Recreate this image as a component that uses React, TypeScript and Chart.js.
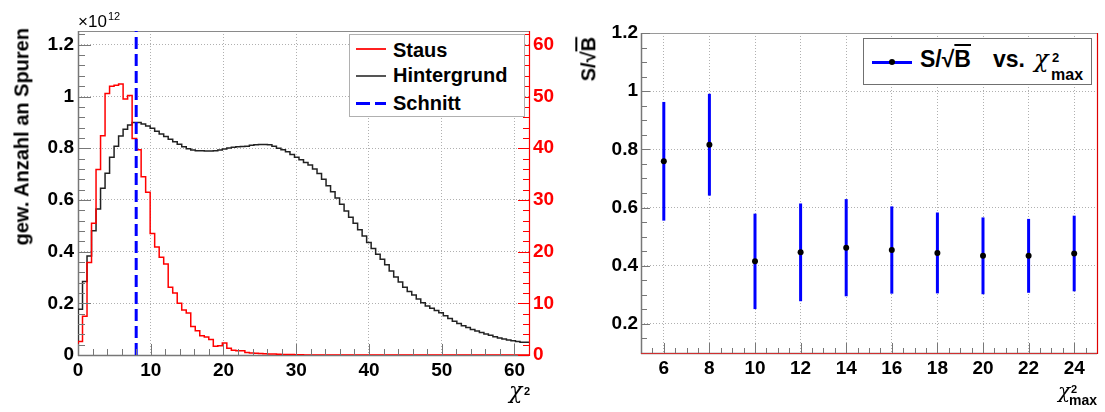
import React, { useEffect, useRef } from "react";
import { Chart, registerables } from "chart.js";

Chart.register(...registerables);

// ---------------- Left panel: chi^2 distributions ----------------
const X_LOW = 0;
const X_HIGH = 62; // 100 bins between X_LOW and X_HIGH
// Staus (right, red axis)
const stausCounts: number[] = [
  0, 2.6, 7.5, 17.9, 25.5, 35.9, 42.4, 50.6, 52.0, 52.2,
  52.4, 49.5, 50.2, 41.9, 39.7, 34.5, 31.5, 23.5, 20.9, 18.9,
  17.6, 13.1, 12.0, 10.0, 8.7, 8.1, 5.5, 4.7, 3.7, 3.5,
  3.0, 1.7, 1.8, 2.3, 1.3, 0.9, 0.8, 0.8, 0.5, 0.4,
  0.35, 0.3, 0.25, 0.2, 0.2, 0.15, 0.1, 0.1, 0.1, 0.05,
  0.05, 0, 0, 0, 0, 0, 0, 0, 0, 0,
  0, 0, 0, 0, 0, 0, 0, 0, 0, 0,
  0, 0, 0, 0, 0, 0, 0, 0, 0, 0,
  0, 0, 0, 0, 0, 0, 0, 0, 0, 0,
  0, 0, 0, 0, 0, 0, 0, 0, 0, 0,
];
// Hintergrund (left axis, units of 1e12)
const hintergrundCounts: number[] = [
  0.071, 0.177, 0.284, 0.383, 0.481, 0.565, 0.645, 0.703, 0.765, 0.808,
  0.847, 0.873, 0.890, 0.899, 0.899, 0.894, 0.886, 0.877, 0.866, 0.855,
  0.845, 0.835, 0.825, 0.815, 0.806, 0.798, 0.793, 0.790, 0.790, 0.789,
  0.789, 0.790, 0.793, 0.797, 0.801, 0.804, 0.806, 0.807, 0.808, 0.811,
  0.813, 0.814, 0.814, 0.813, 0.808, 0.800, 0.794, 0.786, 0.776, 0.765,
  0.755, 0.745, 0.735, 0.720, 0.702, 0.680, 0.655, 0.632, 0.607, 0.583,
  0.557, 0.533, 0.510, 0.485, 0.460, 0.435, 0.412, 0.390, 0.370, 0.349,
  0.325, 0.302, 0.282, 0.262, 0.246, 0.232, 0.217, 0.202, 0.190, 0.181,
  0.172, 0.163, 0.152, 0.141, 0.131, 0.122, 0.113, 0.106, 0.099, 0.093,
  0.087, 0.081, 0.076, 0.071, 0.066, 0.062, 0.058, 0.055, 0.052, 0.049,
];
const schnittX = 8;
const Y_MAX_LEFT = 1.2534;
const Y2_MAX_LEFT = 62.67;
const xTicksLeft = [0, 10, 20, 30, 40, 50, 60];
const yTicksLeft = [0, 0.2, 0.4, 0.6, 0.8, 1.0, 1.2];
const y2TicksLeft = [0, 10, 20, 30, 40, 50, 60];

// ---------------- Right panel: S/sqrt(B) vs chi2_max ----------------
const chi2Max = [6, 8, 10, 12, 14, 16, 18, 20, 22, 24];
const sOverSqrtB = [0.759, 0.816, 0.415, 0.446, 0.462, 0.454, 0.444, 0.434, 0.434, 0.442];
const sOverSqrtBErr = [0.204, 0.175, 0.164, 0.168, 0.167, 0.15, 0.139, 0.132, 0.127, 0.13];
const xTicksRight = [6, 8, 10, 12, 14, 16, 18, 20, 22, 24];
const yTicksRight = [0.2, 0.4, 0.6, 0.8, 1.0, 1.2];

const SANS = "'Liberation Sans', Arial, Helvetica, sans-serif";
const GREEK = "'DejaVu Serif', 'Liberation Serif', serif";
const TICK_FONT = { family: SANS, size: 19, weight: "bold" as const };

function steps(from: number, to: number, step: number): number[] {
  const out: number[] = [];
  const n = Math.round((to - from) / step);
  for (let i = 0; i <= n; i++) out.push(+(from + i * step).toFixed(6));
  return out;
}
function minorsOf(all: number[], majors: number[]) {
  return all.filter((v) => !majors.some((m) => Math.abs(m - v) < 1e-9));
}
function histPoints(counts: number[]) {
  const w = (X_HIGH - X_LOW) / counts.length;
  const pts = [{ x: X_LOW, y: 0 }];
  counts.forEach((c, i) => pts.push({ x: X_LOW + i * w, y: c }));
  pts.push({ x: X_HIGH, y: counts[counts.length - 1] });
  return pts;
}
const fmt = (v: number | string) => String(Math.round(Number(v) * 100) / 100);
const fixedTicks = (arr: number[]) => (s: any) => {
  s.ticks = arr.map((v) => ({ value: v }));
};

const GRID = { color: "#b0b0b0", lineWidth: 1, drawTicks: false };
const BORDER = { display: false, dash: [1, 2] };

// frame + inside tick marks (ROOT style)
const rootFramePlugin = {
  id: "rootFrame",
  beforeDatasetsDraw(chart: any, _a: any, opts: any) {
    const { ctx, chartArea: a } = chart;
    ctx.save();
    for (const e of opts.edges || []) {
      ctx.strokeStyle = e.color;
      ctx.lineWidth = e.width;
      ctx.beginPath();
      if (e.side === "top") { ctx.moveTo(a.left, a.top + 0.5); ctx.lineTo(a.right, a.top + 0.5); }
      if (e.side === "bottom") { ctx.moveTo(a.left, a.bottom + 0.5); ctx.lineTo(a.right, a.bottom + 0.5); }
      if (e.side === "left") { ctx.moveTo(a.left + 0.5, a.top); ctx.lineTo(a.left + 0.5, a.bottom + 1); }
      if (e.side === "right") { ctx.moveTo(a.right + 0.5, a.top); ctx.lineTo(a.right + 0.5, a.bottom + 1); }
      ctx.stroke();
    }
    ctx.restore();
  },
  afterDatasetsDraw(chart: any, _a: any, opts: any) {
    const { ctx, chartArea: a, scales } = chart;
    ctx.save();
    for (const t of opts.ticks || []) {
      const s = scales[t.scale];
      ctx.strokeStyle = t.color;
      ctx.lineWidth = 1;
      const draw = (v: number, len: number) => {
        const p = Math.round(s.getPixelForValue(v)) + 0.5;
        ctx.beginPath();
        if (t.side === "bottom") { ctx.moveTo(p, a.bottom); ctx.lineTo(p, a.bottom - len); }
        else if (t.side === "left") { ctx.moveTo(a.left, p); ctx.lineTo(a.left + len, p); }
        else { ctx.moveTo(a.right, p); ctx.lineTo(a.right - len, p); }
        ctx.stroke();
      };
      t.major.forEach((v: number) => draw(v, t.majorLen));
      t.minor.forEach((v: number) => draw(v, t.minorLen));
    }
    for (const e of opts.topEdges || []) {
      ctx.strokeStyle = e.color;
      ctx.lineWidth = e.width;
      ctx.beginPath();
      if (e.side === "bottom") { ctx.moveTo(a.left, a.bottom + 0.5); ctx.lineTo(a.right, a.bottom + 0.5); }
      if (e.side === "right") { ctx.moveTo(a.right + 0.5, a.top); ctx.lineTo(a.right + 0.5, a.bottom + 1); }
      ctx.stroke();
    }
    ctx.restore();
  },
};

const errorBarPlugin = {
  id: "errBars",
  beforeDatasetsDraw(chart: any) {
    const { ctx, scales } = chart;
    ctx.save();
    ctx.strokeStyle = "#0000ff";
    ctx.lineWidth = 3;
    chi2Max.forEach((xv, i) => {
      const x = scales.x.getPixelForValue(xv);
      const y1 = scales.y.getPixelForValue(sOverSqrtB[i] + sOverSqrtBErr[i]);
      const y2 = scales.y.getPixelForValue(sOverSqrtB[i] - sOverSqrtBErr[i]);
      ctx.beginPath();
      ctx.moveTo(x, y1);
      ctx.lineTo(x, y2);
      ctx.stroke();
    });
    ctx.restore();
  },
};

function leftConfig(): any {
  return {
    type: "line",
    data: {
      datasets: [
        {
          label: "Schnitt",
          data: [{ x: schnittX, y: 0 }, { x: schnittX, y: Y_MAX_LEFT }],
          borderColor: "#0000ff",
          borderWidth: 3,
          borderDash: [12, 5],
          pointRadius: 0,
          yAxisID: "y",
        },
        {
          label: "Staus",
          data: histPoints(stausCounts),
          borderColor: "#ff0000",
          borderWidth: 1.5,
          stepped: "after",
          pointRadius: 0,
          yAxisID: "y2",
        },
        {
          label: "Hintergrund",
          data: histPoints(hintergrundCounts),
          borderColor: "#222222",
          borderWidth: 1.5,
          stepped: "after",
          pointRadius: 0,
          yAxisID: "y",
        },
      ],
    },
    options: {
      responsive: false,
      maintainAspectRatio: false,
      animation: false,
      events: [],
      parsing: false,
      layout: { padding: { top: 31, left: 0, right: 0, bottom: 0 } },
      plugins: {
        legend: { display: false },
        tooltip: { enabled: false },
        rootFrame: {
          edges: [
            { side: "top", color: "#8a8a8a", width: 1 },
            { side: "left", color: "#777777", width: 1.5 },
            { side: "bottom", color: "#777777", width: 1.5 },
          ],
          topEdges: [{ side: "right", color: "#ff0000", width: 1.2 }],
          ticks: [
            { scale: "x", side: "bottom", major: xTicksLeft, minor: minorsOf(steps(0, 62, 2), xTicksLeft), majorLen: 11, minorLen: 6, color: "#777777" },
            { scale: "y", side: "left", major: yTicksLeft, minor: minorsOf(steps(0, 1.24, 0.04), yTicksLeft), majorLen: 13, minorLen: 7, color: "#777777" },
            { scale: "y2", side: "right", major: y2TicksLeft, minor: minorsOf(steps(0, 62, 2), y2TicksLeft), majorLen: 11, minorLen: 6, color: "#ff0000" },
          ],
        },
      },
      scales: {
        x: {
          type: "linear",
          min: X_LOW,
          max: X_HIGH,
          afterBuildTicks: fixedTicks(xTicksLeft),
          afterFit: (s: any) => { s.height = 57; },
          grid: GRID,
          border: BORDER,
          ticks: { font: TICK_FONT, color: "#000", padding: 4, maxRotation: 0, autoSkip: false, callback: fmt },
        },
        y: {
          type: "linear",
          position: "left",
          min: 0,
          max: Y_MAX_LEFT,
          afterBuildTicks: fixedTicks(yTicksLeft),
          afterFit: (s: any) => { s.width = 78; },
          grid: GRID,
          border: BORDER,
          ticks: { font: TICK_FONT, color: "#000", padding: 4, autoSkip: false, callback: fmt },
        },
        y2: {
          type: "linear",
          position: "right",
          min: 0,
          max: Y2_MAX_LEFT,
          afterBuildTicks: fixedTicks(y2TicksLeft),
          afterFit: (s: any) => { s.width = 31; },
          grid: { display: false, drawTicks: false },
          border: { display: false },
          ticks: { font: TICK_FONT, color: "#ff0000", padding: 4, autoSkip: false, callback: fmt },
        },
      },
    },
    plugins: [rootFramePlugin],
  };
}

function rightConfig(): any {
  return {
    type: "line",
    data: {
      datasets: [
        {
          label: "S/sqrt(B) vs. chi2max",
          data: chi2Max.map((x, i) => ({ x, y: sOverSqrtB[i] })),
          showLine: false,
          pointRadius: 3,
          pointBackgroundColor: "#000",
          pointBorderColor: "#000",
          pointBorderWidth: 0,
        },
      ],
    },
    options: {
      responsive: false,
      maintainAspectRatio: false,
      animation: false,
      events: [],
      parsing: false,
      layout: { padding: { top: 33, left: 0, right: 8, bottom: 0 } },
      plugins: {
        legend: { display: false },
        tooltip: { enabled: false },
        rootFrame: {
          edges: [
            { side: "top", color: "#9a9a9a", width: 1 },
            { side: "left", color: "#777777", width: 1.5 },
            { side: "bottom", color: "#777777", width: 1.5 },
          ],
          topEdges: [
            { side: "right", color: "#e00000", width: 1.2 },
            { side: "bottom", color: "#d03030", width: 1 },
          ],
          ticks: [
            { scale: "x", side: "bottom", major: xTicksRight, minor: minorsOf(steps(5, 25, 0.5), xTicksRight), majorLen: 10, minorLen: 5, color: "#777777" },
            { scale: "y", side: "left", major: yTicksRight, minor: minorsOf(steps(0.1, 1.2, 0.05), yTicksRight), majorLen: 9, minorLen: 6, color: "#777777" },
          ],
        },
      },
      scales: {
        x: {
          type: "linear",
          min: 5,
          max: 25,
          afterBuildTicks: fixedTicks(xTicksRight),
          afterFit: (s: any) => { s.height = 59; },
          grid: GRID,
          border: BORDER,
          ticks: { font: TICK_FONT, color: "#000", padding: 4, maxRotation: 0, autoSkip: false, callback: fmt },
        },
        y: {
          type: "linear",
          min: 0.1,
          max: 1.2,
          afterBuildTicks: fixedTicks(yTicksRight),
          afterFit: (s: any) => { s.width = 81; },
          grid: GRID,
          border: BORDER,
          ticks: { font: TICK_FONT, color: "#000", padding: 3, autoSkip: false, callback: fmt },
        },
      },
    },
    plugins: [rootFramePlugin, errorBarPlugin],
  };
}

const abs = (left: number, top: number, extra: React.CSSProperties = {}): React.CSSProperties => ({
  position: "absolute",
  left,
  top,
  whiteSpace: "nowrap",
  ...extra,
});

function RotatedTitle({ x, top, size, children }: { x: number; top: number; size: number; children: React.ReactNode }) {
  return (
    <div
      style={{
        position: "absolute",
        right: 1105 - x,
        top,
        fontFamily: SANS,
        fontWeight: "bold",
        fontSize: size,
        lineHeight: "24px",
        whiteSpace: "nowrap",
        transformOrigin: "right top",
        transform: "rotate(-90deg)",
      }}
    >
      {children}
    </div>
  );
}

export default function App() {
  const leftRef = useRef<HTMLCanvasElement>(null);
  const rightRef = useRef<HTMLCanvasElement>(null);

  useEffect(() => {
    document.body.style.margin = "0";
    const c1 = new Chart(leftRef.current as HTMLCanvasElement, leftConfig());
    const c2 = new Chart(rightRef.current as HTMLCanvasElement, rightConfig());
    return () => {
      c1.destroy();
      c2.destroy();
    };
  }, []);

  const legendText: React.CSSProperties = { fontFamily: SANS, fontWeight: "bold", fontSize: 20, lineHeight: "24px" };
  const chi = (size: number): React.CSSProperties => ({ fontFamily: GREEK, fontStyle: "italic", fontSize: size, lineHeight: `${size}px` });

  return (
    <div style={{ position: "relative", width: 1105, height: 412, background: "#fff", overflow: "hidden", fontFamily: SANS }}>
      <canvas ref={leftRef} width={560} height={412} style={{ position: "absolute", left: 0, top: 0, width: 560, height: 412 }} />
      <canvas ref={rightRef} width={545} height={412} style={{ position: "absolute", left: 560, top: 0, width: 545, height: 412 }} />

      {/* Left panel texts */}
      <RotatedTitle x={9} top={28} size={20}>gew. Anzahl an Spuren</RotatedTitle>
      <div style={abs(78, 12, { fontSize: 17, lineHeight: "19px" })}>×10</div>
      <div style={abs(108, 10, { fontSize: 11, lineHeight: "12px" })}>12</div>
      <div style={abs(509, 380, chi(22))}>χ</div>
      <div style={abs(524, 385.5, { fontSize: 11, lineHeight: "11px", fontWeight: "bold" })}>2</div>

      {/* Left legend */}
      <div style={abs(349, 34, { width: 176, height: 83, border: "1px solid #b0b0b0", background: "#fff", boxSizing: "border-box" })} />
      <div style={abs(356, 48, { width: 30, height: 2, background: "#ff2020" })} />
      <div style={abs(393, 38, legendText)}>Staus</div>
      <div style={abs(356, 75, { width: 30, height: 2, background: "#555" })} />
      <div style={abs(393, 62.5, legendText)}>Hintergrund</div>
      <div style={abs(356, 102, { width: 14, height: 3, background: "#0000ff" })} />
      <div style={abs(375, 102, { width: 11, height: 3, background: "#0000ff" })} />
      <div style={abs(393, 91, legendText)}>Schnitt</div>

      {/* Right panel texts */}
      <RotatedTitle x={576} top={37} size={20}>
        S/√<span style={{ textDecoration: "overline" }}>B</span>
      </RotatedTitle>
      <div style={abs(1058, 381, chi(20))}>χ</div>
      <div style={abs(1071, 383.5, { fontSize: 11, lineHeight: "11px", fontWeight: "bold" })}>2</div>
      <div style={abs(1069, 393, { fontSize: 14, lineHeight: "14px", fontWeight: "bold" })}>max</div>

      {/* Right legend */}
      <div style={abs(863, 38, { width: 229, height: 47, border: "1px solid #707070", background: "#fff", boxSizing: "border-box" })} />
      <div style={abs(872, 60.5, { width: 40, height: 3, background: "#0000ff" })} />
      <div style={abs(889, 59, { width: 6, height: 6, borderRadius: 3, background: "#000" })} />
      <div style={abs(920, 47.5, { fontWeight: "bold", fontSize: 23, lineHeight: "23px" })}>
        S/√<span style={{ textDecoration: "overline" }}>B</span>
      </div>
      <div style={abs(993, 47.5, { fontWeight: "bold", fontSize: 23, lineHeight: "23px" })}>vs.</div>
      <div style={abs(1034, 46.7, chi(24))}>χ</div>
      <div style={abs(1052, 51, { fontWeight: "bold", fontSize: 13, lineHeight: "13px" })}>2</div>
      <div style={abs(1051, 66.5, { fontWeight: "bold", fontSize: 16, lineHeight: "16px" })}>max</div>
    </div>
  );
}
